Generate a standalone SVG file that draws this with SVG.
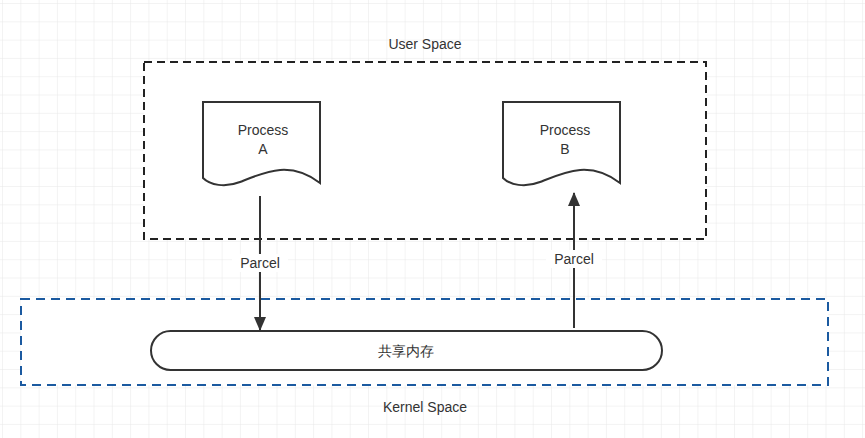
<svg xmlns="http://www.w3.org/2000/svg" width="865" height="438" viewBox="0 0 865 438">
<style>
text{font-family:"Liberation Sans",Arial,sans-serif;font-size:14px;fill:#333;text-anchor:middle}
.doc{fill:#fff;stroke:#333;stroke-width:2}
.ln{stroke:#333;stroke-width:2;fill:none}
</style>
<defs>
<pattern id="g" width="18.3" height="18.3" patternUnits="userSpaceOnUse" x="3" y="4">
<path d="M18.3 0V18.3M0 18.3H18.3" stroke="#e8e8e8" stroke-width="1" fill="none"/>
</pattern>
<marker id="ar" markerWidth="14" markerHeight="12" refX="13" refY="6" orient="auto" markerUnits="userSpaceOnUse">
<path d="M0 0L14 6L0 12z" fill="#333"/>
</marker>
</defs>
<rect width="865" height="438" fill="#fff"/>
<rect width="865" height="438" fill="url(#g)"/>
<g id="user">
<rect x="144" y="62" width="562" height="177" fill="#fff" stroke="#222" stroke-width="2" stroke-dasharray="8,5"/>
<text x="425" y="49">User Space</text>
</g>
<g id="kernel">
<rect x="21" y="299" width="807" height="86" fill="#fff" stroke="#1b5aa0" stroke-width="2" stroke-dasharray="9,6"/>
<text x="425" y="412">Kernel Space</text>
</g>
<g id="mem">
<rect x="151" y="331" width="511" height="39" rx="19.5" fill="#fff" stroke="#333" stroke-width="2"/>
<text x="406" y="356">共享内存</text>
</g>
<g id="procA">
<path class="doc" d="M203 102H320V183C290 160 265 172 240 182C225 188 210 185 203 178Z"/>
<text x="263" y="135">Process</text><text x="263" y="154">A</text>
</g>
<g id="procB">
<path class="doc" d="M503 102H620V183C590 160 565 172 540 182C525 188 510 185 503 178Z"/>
<text x="565" y="135">Process</text><text x="565" y="154">B</text>
</g>
<g id="connectors">
<line class="ln" x1="260" y1="196" x2="260" y2="330" marker-end="url(#ar)"/>
<line class="ln" x1="574" y1="328" x2="574" y2="193" marker-end="url(#ar)"/>
<rect x="232" y="254" width="56" height="18" fill="#fff"/>
<text x="260" y="268">Parcel</text>
<rect x="546" y="250" width="56" height="18" fill="#fff"/>
<text x="574" y="264">Parcel</text>
</g>
</svg>
